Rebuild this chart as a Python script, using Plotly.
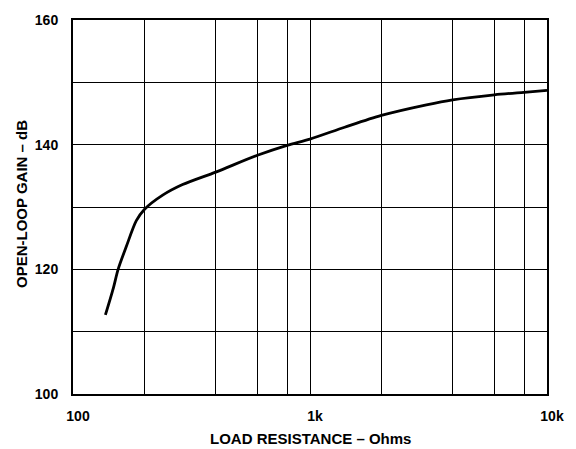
import plotly.graph_objects as go

# Data
load_ohms = [137, 148, 155, 168, 185, 200, 239, 290, 400, 600, 800, 1000,
             1400, 2000, 3100, 4000, 6000, 8000, 10000]
gain_db = [112.7, 117.0, 120.0, 123.7, 127.8, 129.6, 131.9, 133.6, 135.6,
           138.3, 139.9, 140.9, 142.8, 144.7, 146.4, 147.2, 148.0, 148.4, 148.7]

x_grid = [100, 200, 400, 600, 800, 1000, 2000, 4000, 6000, 8000, 10000]
x_text = ["100", "", "", "", "", "1k", "", "", "", "", "10k"]
y_grid = [100, 110, 120, 130, 140, 150, 160]
y_text = ["100", "", "120", "", "140", "", "160"]

FONT = "Liberation Sans, Arial, sans-serif"

fig = go.Figure()
fig.add_trace(go.Scatter(
    x=load_ohms, y=gain_db, mode="lines",
    line=dict(color="black", width=2.8, shape="spline", smoothing=0.8),
    showlegend=False, hoverinfo="skip"))

fig.update_layout(
    width=576, height=449,
    margin=dict(l=73, r=26, t=12, b=55),
    paper_bgcolor="white", plot_bgcolor="white",
    font=dict(family=FONT, color="black"),
    annotations=[
        dict(text="<b>LOAD RESISTANCE – Ohms</b>", xref="paper", yref="paper",
             x=0.5, y=0, xanchor="center", yanchor="middle", yshift=-44,
             showarrow=False, font=dict(size=15, family=FONT, color="black")),
        dict(text="<b>OPEN-LOOP GAIN – dB</b>", xref="paper", yref="paper",
             x=0, y=0.5, xanchor="center", yanchor="middle", xshift=-52, yshift=3,
             textangle=-90, showarrow=False,
             font=dict(size=15, family=FONT, color="black")),
    ],
)

fig.update_xaxes(
    type="log", range=[2, 4],
    tickmode="array", tickvals=x_grid, ticktext=x_text,
    showgrid=True, gridcolor="black", gridwidth=1,
    showline=True, linecolor="black", linewidth=2, mirror=True,
    ticks="", ticklabelstandoff=8, ticklabelshift=5,
    tickfont=dict(size=14, family=FONT, color="black", weight="bold"),
    zeroline=False, fixedrange=True)

fig.update_yaxes(
    range=[100, 160],
    tickmode="array", tickvals=y_grid, ticktext=y_text,
    showgrid=True, gridcolor="black", gridwidth=1,
    showline=True, linecolor="black", linewidth=2, mirror=True,
    ticks="", ticklabelstandoff=10,
    tickfont=dict(size=14, family=FONT, color="black", weight="bold"),
    zeroline=False, fixedrange=True)

fig.write_html("out.html", config={"displayModeBar": False},
               post_script="document.body.style.margin='0';document.body.style.overflow='hidden';")
